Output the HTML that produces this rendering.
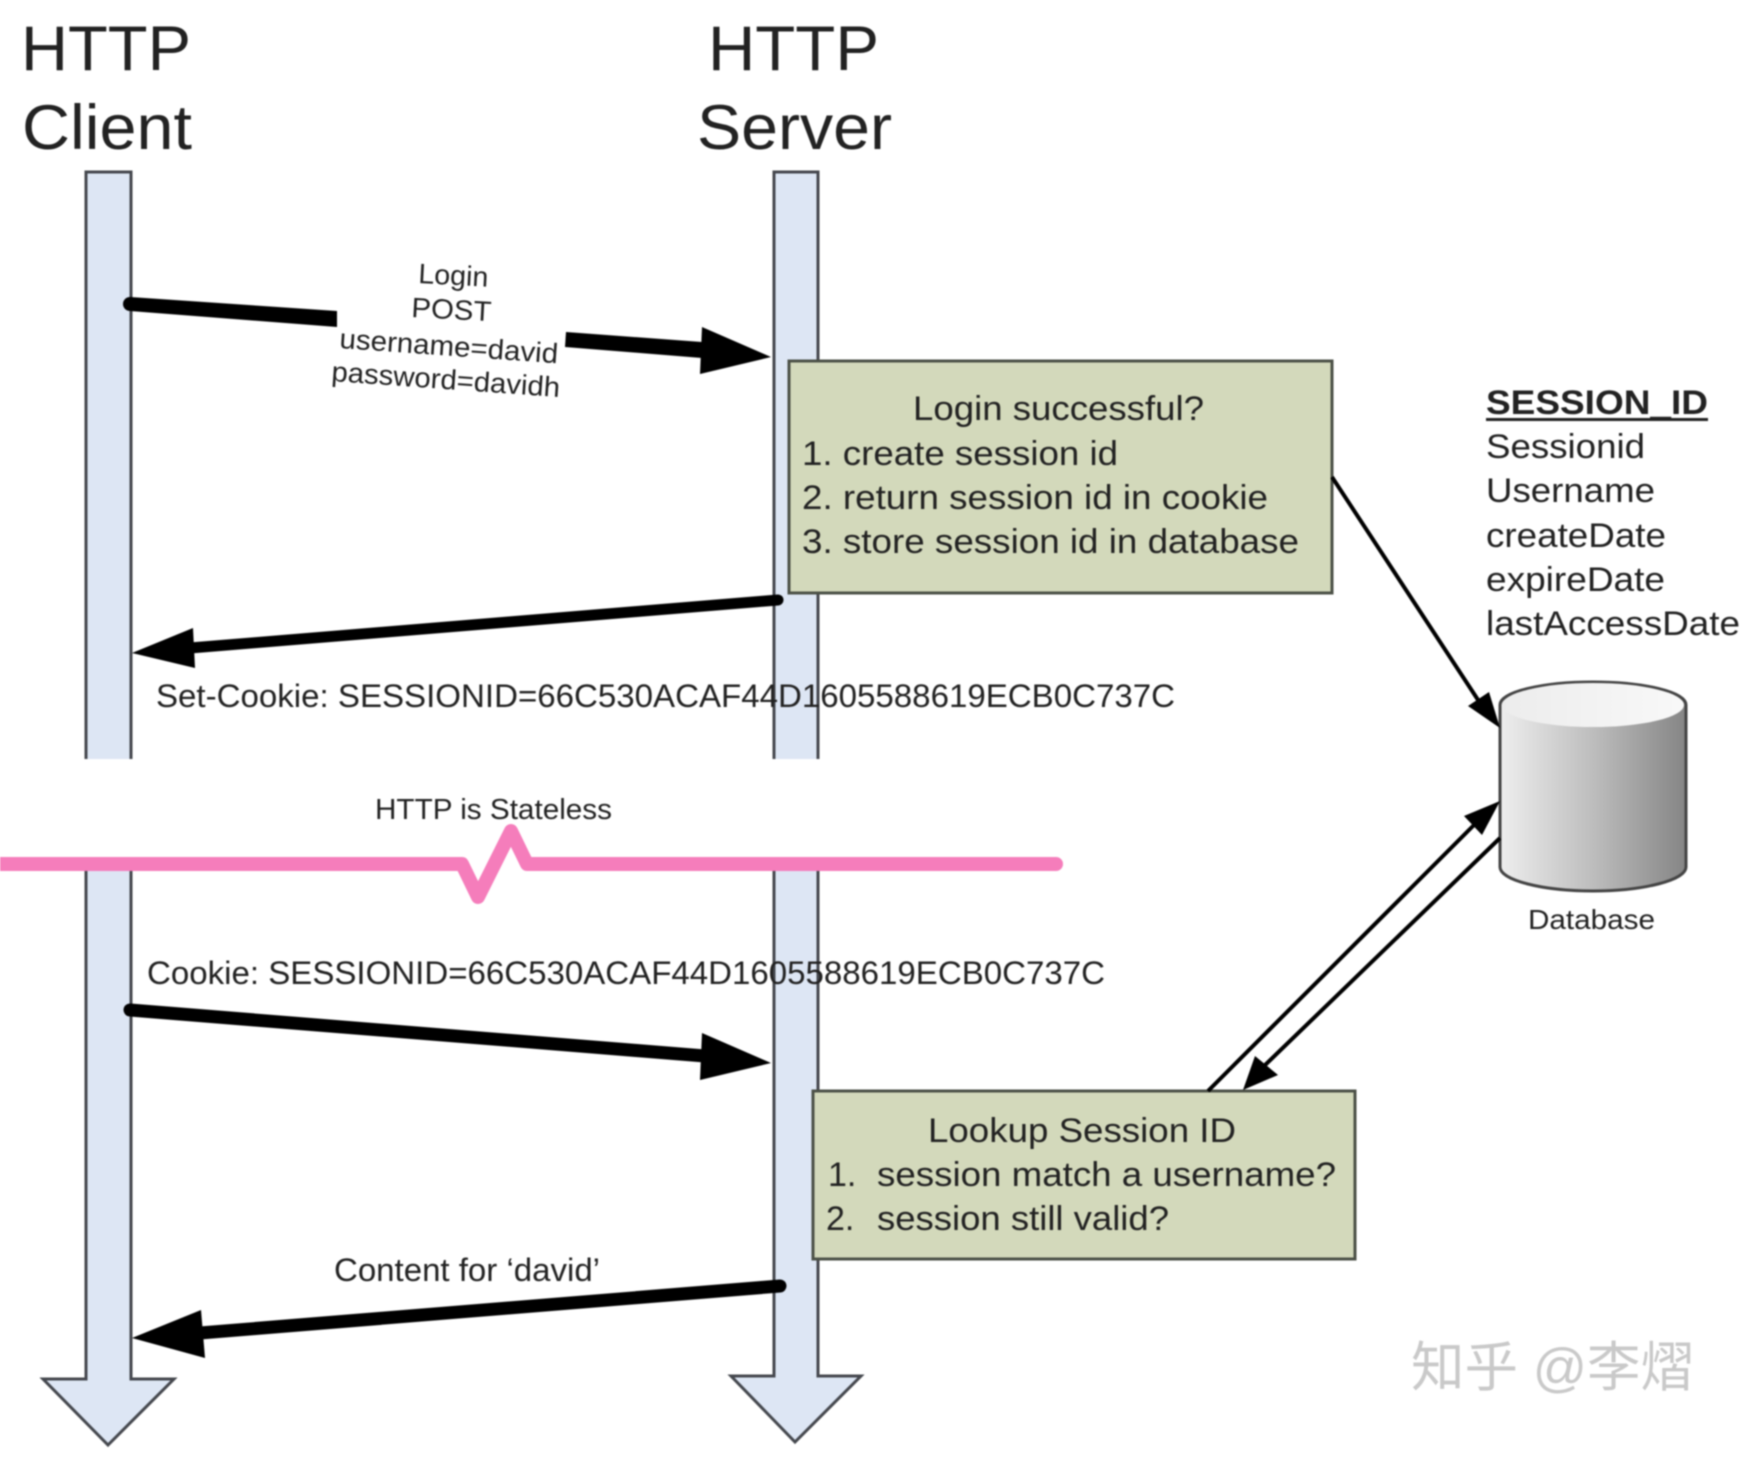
<!DOCTYPE html>
<html>
<head>
<meta charset="utf-8">
<style>
html,body{margin:0;padding:0;background:#fff;width:1762px;height:1464px;overflow:hidden}
svg{display:block;filter:blur(0.8px)}
text{font-family:"Liberation Sans","Noto Sans CJK SC",sans-serif;fill:#222}
</style>
</head>
<body>
<svg width="1762" height="1464" viewBox="0 0 1762 1464" xmlns="http://www.w3.org/2000/svg">
<defs>
<linearGradient id="cyl" x1="0" x2="1" y1="0" y2="0">
<stop offset="0" stop-color="#eeeeee"/><stop offset="0.5" stop-color="#bdbdbd"/><stop offset="1" stop-color="#858585"/>
</linearGradient>
<linearGradient id="cap" x1="0" x2="1" y1="0" y2="0">
<stop offset="0" stop-color="#ececec"/><stop offset="1" stop-color="#f8f8f8"/>
</linearGradient>
</defs>

<!-- lifelines -->
<g fill="#dde6f4" stroke="#45484e" stroke-width="3">
<path d="M86 759V172H131V759" />
<path d="M774 759V172H818V759"/>
<path d="M86 866V1379H43L108 1445L174 1379H131V866"/>
<path d="M774 866V1376H731L795 1442L861 1376H818V866"/>
</g>

<!-- pink break line -->
<path d="M-10 864H462L478 897L511 831L527 864H1056" fill="none" stroke="#f57dbb" stroke-width="14" stroke-linecap="round" stroke-linejoin="round"/>

<!-- login arrow -->
<g fill="#000">
<polygon points="130,297 337,311 337,327 130,311"/>
<circle cx="130" cy="304" r="7"/>
<polygon points="566,332 702,342 702,358 565,347"/>
<polygon points="702,327 771,357 700,374"/>
</g>

<!-- set-cookie arrow -->
<path d="M778 600L190 648" stroke="#000" stroke-width="11" stroke-linecap="round" fill="none"/>
<polygon points="132,653 193,628 195,668" fill="#000"/>

<!-- cookie arrow -->
<path d="M130 1010L705 1056" stroke="#000" stroke-width="13" stroke-linecap="round" fill="none"/>
<polygon points="702,1033 771,1063 700,1080" fill="#000"/>

<!-- content arrow -->
<path d="M780 1286L200 1333" stroke="#000" stroke-width="13" stroke-linecap="round" fill="none"/>
<polygon points="132,1338 201,1310 205,1358" fill="#000"/>

<!-- boxes -->
<rect x="789" y="361" width="543" height="232" fill="#d3d9bb" stroke="#4c5147" stroke-width="3"/>
<rect x="813" y="1091" width="542" height="168" fill="#d3d9bb" stroke="#4c5147" stroke-width="3"/>

<!-- cylinder -->
<path d="M1500 705V867C1500 880 1542 891 1593 891C1644 891 1686 880 1686 867V705C1686 692 1644 682 1593 682C1542 682 1500 692 1500 705Z" fill="url(#cyl)" stroke="#444" stroke-width="3"/>
<ellipse cx="1593" cy="705" rx="91" ry="22" fill="url(#cap)"/>

<!-- connectors -->
<path d="M1332 477L1482 706" stroke="#000" stroke-width="4" fill="none"/>
<polygon points="1500,728 1468,706 1489,692" fill="#000"/>
<path d="M1208 1091L1481 818" stroke="#000" stroke-width="4" fill="none"/>
<polygon points="1500,801 1464,816 1482,835" fill="#000"/>
<path d="M1500 838L1262 1068" stroke="#000" stroke-width="4" fill="none"/>
<polygon points="1243,1090 1255,1056 1278,1075" fill="#000"/>

<!-- titles -->
<g font-size="63">
<text x="21" y="70" textLength="170" lengthAdjust="spacingAndGlyphs">HTTP</text>
<text x="22" y="149" textLength="170" lengthAdjust="spacingAndGlyphs">Client</text>
<text x="708" y="70" textLength="171" lengthAdjust="spacingAndGlyphs">HTTP</text>
<text x="697" y="149" textLength="195" lengthAdjust="spacingAndGlyphs">Server</text>
</g>

<!-- login label -->
<g font-size="28">
<text transform="translate(418 283) rotate(3)" textLength="70" lengthAdjust="spacingAndGlyphs">Login</text>
<text transform="translate(411 317) rotate(3)" textLength="80" lengthAdjust="spacingAndGlyphs">POST</text>
<text transform="translate(339 348) rotate(4)" textLength="219" lengthAdjust="spacingAndGlyphs">username=david</text>
<text transform="translate(331 381) rotate(4)" textLength="229" lengthAdjust="spacingAndGlyphs">password=davidh</text>
</g>

<g font-size="32">
<text x="156" y="707" textLength="1019" lengthAdjust="spacingAndGlyphs">Set-Cookie: SESSIONID=66C530ACAF44D1605588619ECB0C737C</text>
<text x="147" y="984" textLength="958" lengthAdjust="spacingAndGlyphs">Cookie: SESSIONID=66C530ACAF44D1605588619ECB0C737C</text>
<text x="334" y="1281" textLength="266" lengthAdjust="spacingAndGlyphs">Content for ‘david’</text>
</g>
<text x="375" y="819" font-size="29" textLength="237" lengthAdjust="spacingAndGlyphs">HTTP is Stateless</text>

<!-- box 1 text -->
<g font-size="34">
<text x="913" y="420" textLength="291" lengthAdjust="spacingAndGlyphs">Login successful?</text>
<text x="802" y="465" textLength="316" lengthAdjust="spacingAndGlyphs">1. create session id</text>
<text x="802" y="509" textLength="466" lengthAdjust="spacingAndGlyphs">2. return session id in cookie</text>
<text x="802" y="553" textLength="497" lengthAdjust="spacingAndGlyphs">3. store session id in database</text>
</g>

<!-- box 2 text -->
<g font-size="34">
<text x="928" y="1142" textLength="308" lengthAdjust="spacingAndGlyphs">Lookup Session ID</text>
<text x="828" y="1186">1.</text>
<text x="877" y="1186" textLength="459" lengthAdjust="spacingAndGlyphs">session match a username?</text>
<text x="826" y="1230">2.</text>
<text x="877" y="1230" textLength="292" lengthAdjust="spacingAndGlyphs">session still valid?</text>
</g>

<!-- session table -->
<g font-size="34">
<text x="1486" y="414" font-weight="bold" textLength="222" lengthAdjust="spacingAndGlyphs">SESSION_ID</text>
<rect x="1486" y="418" width="222" height="3" fill="#222"/>
<text x="1486" y="458" textLength="159" lengthAdjust="spacingAndGlyphs">Sessionid</text>
<text x="1486" y="502" textLength="169" lengthAdjust="spacingAndGlyphs">Username</text>
<text x="1486" y="547" textLength="180" lengthAdjust="spacingAndGlyphs">createDate</text>
<text x="1486" y="591" textLength="179" lengthAdjust="spacingAndGlyphs">expireDate</text>
<text x="1486" y="635" textLength="254" lengthAdjust="spacingAndGlyphs">lastAccessDate</text>
</g>

<text x="1528" y="929" font-size="28" textLength="127" lengthAdjust="spacingAndGlyphs">Database</text>

<!-- watermark -->
<text x="1411" y="1386" font-size="54" style="fill:#c9c9c9" textLength="283" lengthAdjust="spacingAndGlyphs">知乎 @李熠</text>
</svg>
</body>
</html>
